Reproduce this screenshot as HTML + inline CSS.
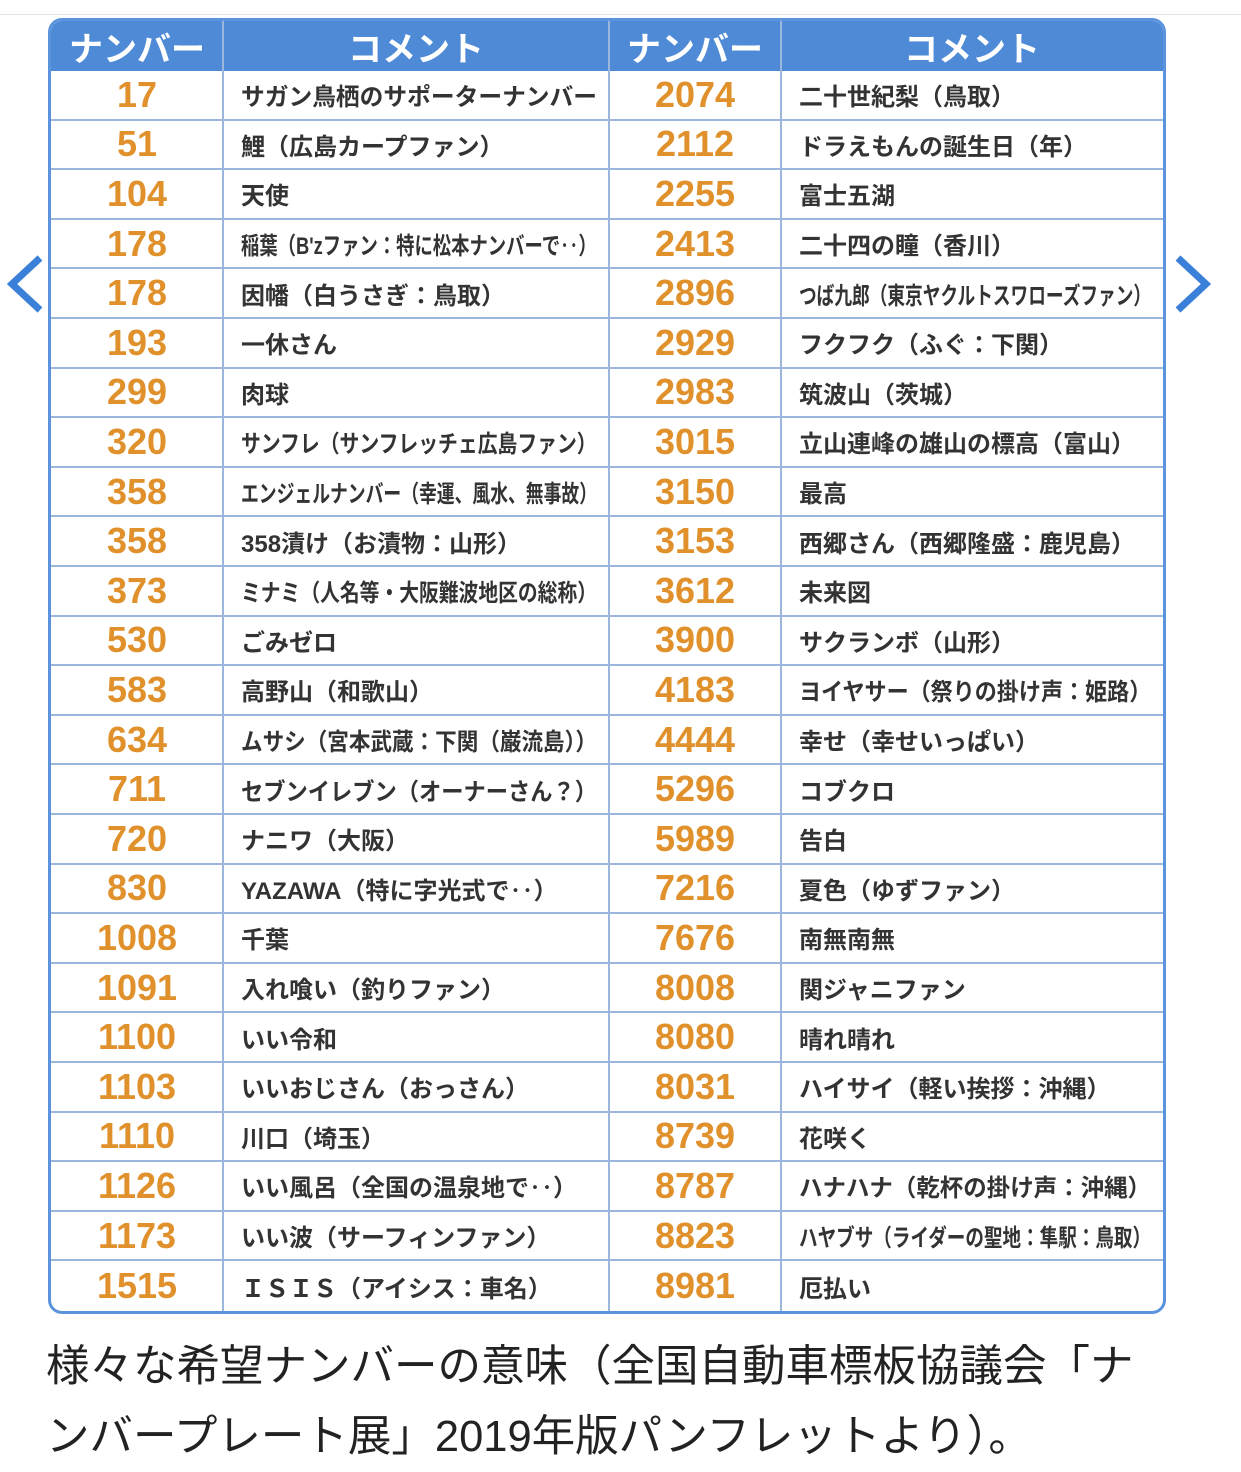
<!DOCTYPE html>
<html><head><meta charset="utf-8">
<style>
body{margin:0;width:1241px;height:1471px;background:#fff;position:relative;overflow:hidden;font-family:"Liberation Sans","Noto Sans CJK JP",sans-serif;}
#topline{position:absolute;left:0;top:14px;width:1241px;height:1px;background:#e2e2e2;}
#tbl{position:absolute;left:48px;top:18px;width:1112px;height:1290px;border:3px solid #5b93dc;border-radius:14px;overflow:hidden;background:#fff;}
.hdr{position:absolute;top:0;height:50px;background:#4f8ad6;color:#fff;font-size:34px;display:flex;align-items:center;justify-content:center;font-weight:bold;}
.cell{position:absolute;display:flex;align-items:center;box-sizing:border-box;border-bottom:2px solid #9bb7de;overflow:hidden;}
.num{justify-content:center;color:#e0912c;font-size:36px;font-weight:bold;}
.txt{padding-left:18px;color:#333;font-size:24px;font-weight:bold;white-space:nowrap;}
.txt span{display:inline-block;transform-origin:left center;}
.vline{position:absolute;top:0;bottom:0;width:2px;background:#9bb7de;}
.arrow{position:absolute;}
#caption{position:absolute;left:46px;top:1332px;width:1190px;font-size:43.5px;line-height:70px;color:#222;white-space:nowrap;}
</style></head><body>
<div id="topline"></div>
<svg class="arrow" style="left:4px;top:252px" width="44" height="64" viewBox="0 0 44 64"><polyline points="36,6 8,32 36,58" fill="none" stroke="#3a7fd8" stroke-width="7"/></svg>
<svg class="arrow" style="left:1170px;top:252px" width="44" height="64" viewBox="0 0 44 64"><polyline points="8,6 36,32 8,58" fill="none" stroke="#3a7fd8" stroke-width="7"/></svg>
<div id="tbl"></div>
<div id="caption">様々な希望ナンバーの意味（全国自動車標板協議会「ナ<br>ンバープレート展」2019年版パンフレットより）。</div>
<script>
const leftNums=["17","51","104","178","178","193","299","320","358","358","373","530","583","634","711","720","830","1008","1091","1100","1103","1110","1126","1173","1515"];
const leftTexts=["サガン鳥栖のサポーターナンバー","鯉（広島カープファン）","天使","稲葉（B'zファン：特に松本ナンバーで‥）","因幡（白うさぎ：鳥取）","一休さん","肉球","サンフレ（サンフレッチェ広島ファン）","エンジェルナンバー（幸運、風水、無事故）","358漬け（お漬物：山形）","ミナミ（人名等・大阪難波地区の総称）","ごみゼロ","高野山（和歌山）","ムサシ（宮本武蔵：下関（巌流島））","セブンイレブン（オーナーさん？）","ナニワ（大阪）","YAZAWA（特に字光式で‥）","千葉","入れ喰い（釣りファン）","いい令和","いいおじさん（おっさん）","川口（埼玉）","いい風呂（全国の温泉地で‥）","いい波（サーフィンファン）","ＩＳＩＳ（アイシス：車名）"];
const rightNums=["2074","2112","2255","2413","2896","2929","2983","3015","3150","3153","3612","3900","4183","4444","5296","5989","7216","7676","8008","8080","8031","8739","8787","8823","8981"];
const rightTexts=["二十世紀梨（鳥取）","ドラえもんの誕生日（年）","富士五湖","二十四の瞳（香川）","つば九郎（東京ヤクルトスワローズファン）","フクフク（ふぐ：下関）","筑波山（茨城）","立山連峰の雄山の標高（富山）","最高","西郷さん（西郷隆盛：鹿児島）","未来図","サクランボ（山形）","ヨイヤサー（祭りの掛け声：姫路）","幸せ（幸せいっぱい）","コブクロ","告白","夏色（ゆずファン）","南無南無","関ジャニファン","晴れ晴れ","ハイサイ（軽い挨拶：沖縄）","花咲く","ハナハナ（乾杯の掛け声：沖縄）","ハヤブサ（ライダーの聖地：隼駅：鳥取）","厄払い"];
const headers=["ナンバー","コメント","ナンバー","コメント"];
const colX=[0,172,558,730,1112];
const tbl=document.getElementById('tbl');
const hdrH=50,rowH=49.6;
headers.forEach((h,i)=>{const d=document.createElement('div');d.className='hdr';


d.style.left=colX[i]+'px';d.style.width=(colX[i+1]-colX[i])+'px';d.textContent=h;tbl.appendChild(d);});
function add(cls,col,r,t,name){const d=document.createElement('div');d.className='cell '+cls;


const w=colX[col+1]-colX[col];
d.style.left=colX[col]+'px';d.style.width=w+'px';
d.style.top=(hdrH+r*rowH)+'px';d.style.height=rowH+'px';
if(r===leftNums.length-1)d.style.borderBottom='none';
if(cls==='txt'){const s=document.createElement('span');s.textContent=t;d.appendChild(s);tbl.appendChild(d);
const avail=w-30;const sw=s.offsetWidth;if(sw>avail)s.style.transform='scaleX('+(avail/sw)+')';}
else{d.textContent=t;tbl.appendChild(d);}}
for(let r=0;r<leftNums.length;r++){
add('num',0,r,leftNums[r],'left-number-cell');
add('txt',1,r,leftTexts[r],'left-comment-cell');
add('num',2,r,rightNums[r],'right-number-cell');
add('txt',3,r,rightTexts[r],'right-comment-cell');}
[1,2,3].forEach(i=>{const v=document.createElement('div');v.className='vline';


v.style.left=(colX[i]-1)+'px';tbl.appendChild(v);});
</script>
</body></html>
